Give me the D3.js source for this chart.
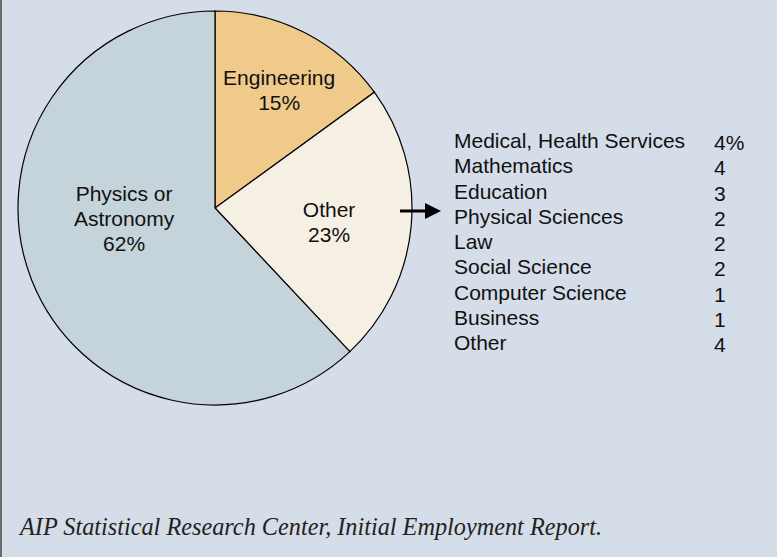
<!DOCTYPE html>
<html>
<head>
<meta charset="utf-8">
<script src="https://cdn.jsdelivr.net/npm/d3@7"></script>
<style>
  html, body { margin: 0; padding: 0; background: #d5dde9; }
  svg { display: block; }
  .sans { font-family: "Liberation Sans", Arial, Helvetica, sans-serif; }
  .serif { font-family: "Liberation Serif", "Times New Roman", Times, serif; font-style: italic; }
</style>
</head>
<body>
<svg id="chart" width="777" height="557"></svg>
<script>
// Pie slices (share of first employment, %)
const sliceNames = ["Engineering", "Other", "Physics or Astronomy"];
const sliceValues = [15, 23, 62];
const sliceLabels = [["Engineering", "15%"], ["Other", "23%"], ["Physics or", "Astronomy", "62%"]];
const sliceColors = ["#f0ca8a", "#f5efe4", "#c5d3da"];

// Breakdown of the "Other" slice
const otherFields = ["Medical, Health Services", "Mathematics", "Education", "Physical Sciences",
  "Law", "Social Science", "Computer Science", "Business", "Other"];
const otherValues = ["4%", "4", "3", "2", "2", "2", "1", "1", "4"];

const footnote = "AIP Statistical Research Center, Initial Employment Report.";

const svg = d3.select("#chart");
const W = 777, H = 557;

svg.append("rect").attr("width", W).attr("height", H).attr("fill", "#d5dde9");
svg.append("line").attr("x1", 1).attr("x2", 1).attr("y1", 0).attr("y2", H)
  .attr("stroke", "#6b6b6b").attr("stroke-width", 2);

const cx = 215, cy = 208, r = 197;
const pie = d3.pie().sort(null).value(d => d);
const arcs = pie(sliceValues);
const arc = d3.arc().innerRadius(0).outerRadius(r);

const g = svg.append("g").attr("transform", `translate(${cx},${cy})`);
g.selectAll("path").data(arcs).join("path")
  .attr("d", arc)
  .attr("fill", (d, i) => sliceColors[i])
  .attr("stroke", "#000")
  .attr("stroke-width", 1.2);

// Slice labels: polar placement (angle in degrees clockwise from top, radius in px)
const labelPolar = [[28.6, 134], [97.2, 115], [263.7, 91.5]];
const lh = 25;
arcs.forEach((a, i) => {
  const ang = labelPolar[i][0] * Math.PI / 180, lr = labelPolar[i][1];
  const lx = Math.sin(ang) * lr, ly = -Math.cos(ang) * lr;
  const lines = sliceLabels[i];
  const t = g.append("text")
    .attr("class", "sans")
    .attr("text-anchor", "middle")
    .attr("font-size", 21)
    .attr("fill", "#111");
  lines.forEach((s, j) => {
    t.append("tspan").attr("x", lx)
      .attr("y", ly + (j - (lines.length - 1) / 2) * lh + 7.5)
      .text(s);
  });
});

// Arrow pointing to the breakdown list
svg.append("defs").append("marker")
  .attr("id", "head").attr("viewBox", "0 0 10 10")
  .attr("refX", 0).attr("refY", 5)
  .attr("markerWidth", 18).attr("markerHeight", 16)
  .attr("markerUnits", "userSpaceOnUse")
  .attr("orient", "auto")
  .append("path").attr("d", "M0,0 L10,5 L0,10 Z").attr("fill", "#000");
svg.append("line").attr("x1", 400).attr("x2", 425).attr("y1", 211).attr("y2", 211)
  .attr("stroke", "#000").attr("stroke-width", 3).attr("marker-end", "url(#head)");

// Breakdown list
const y = d3.scalePoint().domain(otherFields).range([148, 350]);
const list = svg.append("g").attr("class", "sans").attr("font-size", 21).attr("fill", "#111");
list.selectAll("text.name").data(otherFields).join("text")
  .attr("class", "name").attr("x", 454).attr("y", d => y(d)).text(d => d);
list.selectAll("text.val").data(otherFields).join("text")
  .attr("class", "val").attr("x", 714).attr("y", d => y(d) + 2)
  .text((d, i) => otherValues[i]);

// Source note
svg.append("text")
  .attr("class", "serif")
  .attr("x", 20).attr("y", 535)
  .attr("font-size", 25)
  .attr("fill", "#222")
  .attr("textLength", 582)
  .attr("lengthAdjust", "spacingAndGlyphs")
  .text(footnote);
</script>
</body>
</html>
